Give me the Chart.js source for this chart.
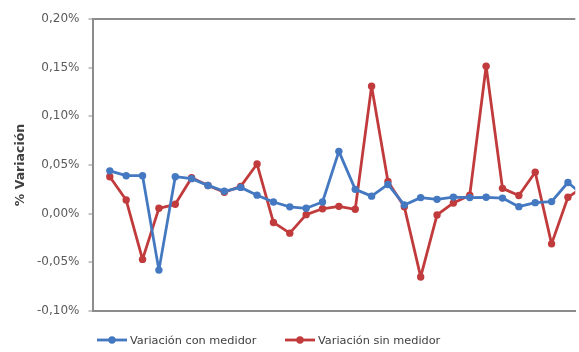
<!DOCTYPE html>
<html>
<head>
<meta charset="utf-8">
<script src="https://cdn.jsdelivr.net/npm/chart.js@4"></script>
<style>
  html, body { margin: 0; padding: 0; background: #fff; overflow: hidden; }
  #wrap { position: relative; width: 579px; height: 352px; }
  #legend { position: absolute; left: 0; top: 333px; width: 579px; height: 16px;
            font-family: "DejaVu Sans", sans-serif; font-size: 11.3px; color: #404040; }
  .item { position: absolute; top: 0; display: flex; align-items: center; height: 14px; white-space: nowrap; }
  .item canvas { margin-right: 3px; }
</style>
</head>
<body>
<div id="wrap">
  <canvas id="c" width="579" height="352"></canvas>
  <div id="legend"></div>
</div>
<script>
// Categories (periods), the 30th lies just past the cropped right edge
const categories = [1,2,3,4,5,6,7,8,9,10,11,12,13,14,15,16,17,18,19,20,21,22,23,24,25,26,27,28,29,30];
const seriesNames = ["Variación con medidor", "Variación sin medidor"];
const conMedidor = [0.044, 0.039, 0.039, -0.058, 0.038, 0.036, 0.029, 0.023, 0.027, 0.019, 0.012, 0.007, 0.0055, 0.012, 0.064, 0.025, 0.018, 0.030, 0.009, 0.0165, 0.0147, 0.017, 0.0165, 0.0168, 0.016, 0.0072, 0.0113, 0.0124, 0.032, 0.018];
const sinMedidor = [0.038, 0.014, -0.047, 0.0055, 0.0096, 0.037, 0.029, 0.022, 0.028, 0.051, -0.009, -0.020, -0.001, 0.005, 0.0075, 0.0045, 0.131, 0.033, 0.007, -0.065, -0.0013, 0.011, 0.019, 0.1515, 0.026, 0.0186, 0.0426, -0.031, 0.0168, 0.028];
const yTicks = [-0.10, -0.05, 0.00, 0.05, 0.10, 0.15, 0.20];
const yTitle = "% Variación";

const colors = ["#4479c2", "#c13b3d"];
const axisGray = "#8c8c8c";

function fmt(v) {
  if (Math.abs(v) < 1e-9) v = 0;
  return v.toFixed(2).replace(".", ",") + "%";
}

const datasets = [conMedidor, sinMedidor].map((vals, k) => ({
  label: seriesNames[k],
  data: vals.map((v, i) => ({ x: categories[i], y: v })),
  borderColor: colors[k],
  backgroundColor: colors[k],
  borderWidth: 2.8,
  borderJoinStyle: "round",
  borderCapStyle: "round",
  pointRadius: 3.7,
  pointHoverRadius: 3.7,
  pointBorderWidth: 0,
  tension: 0,
  order: k + 1
}));

const chart = new Chart(document.getElementById("c"), {
  type: "line",
  data: { datasets },
  options: {
    responsive: false,
    animation: false,
    events: [],
    layout: { padding: { top: 19, left: 13, right: 0, bottom: 33 } },
    plugins: { legend: { display: false }, tooltip: { enabled: false } },
    scales: {
      x: {
        type: "linear",
        min: 0,
        max: 29.45,
        ticks: { display: false },
        grid: { display: false },
        border: { display: true, color: axisGray, width: 2 }
      },
      y: {
        min: yTicks[0],
        max: yTicks[yTicks.length - 1],
        afterBuildTicks: (s) => { s.ticks = yTicks.map(v => ({ value: v })); },
        ticks: {
          callback: (v) => fmt(v),
          font: { family: "DejaVu Sans", size: 12 },
          color: "#5a5a5a",
          padding: 9
        },
        grid: {
          color: (c) => (c.tick && Math.abs(c.tick.value - yTicks[yTicks.length - 1]) < 1e-9) ? axisGray : "rgba(0,0,0,0)",
          lineWidth: 2,
          tickColor: axisGray,
          tickWidth: 1,
          tickLength: 5,
          drawTicks: true
        },
        border: { display: true, color: axisGray, width: 2 },
        title: {
          display: true,
          text: yTitle,
          font: { family: "DejaVu Sans", size: 12.5, weight: "bold" },
          color: "#404040",
          padding: { top: 0, bottom: 0 }
        }
      }
    }
  }
});

// HTML legend built from the chart's datasets
const legendPos = [97, 285];
const legend = document.getElementById("legend");
chart.data.datasets.forEach((ds, k) => {
  const item = document.createElement("div");
  item.className = "item";
  item.style.left = legendPos[k] + "px";
  const m = document.createElement("canvas");
  m.width = 30; m.height = 10;
  const g = m.getContext("2d");
  g.strokeStyle = ds.borderColor; g.lineWidth = 2.8;
  g.beginPath(); g.moveTo(0, 5); g.lineTo(30, 5); g.stroke();
  g.fillStyle = ds.borderColor;
  g.beginPath(); g.arc(15, 5, 3.7, 0, Math.PI * 2); g.fill();
  item.appendChild(m);
  const t = document.createElement("span");
  t.textContent = ds.label;
  item.appendChild(t);
  legend.appendChild(item);
});
</script>
</body>
</html>
